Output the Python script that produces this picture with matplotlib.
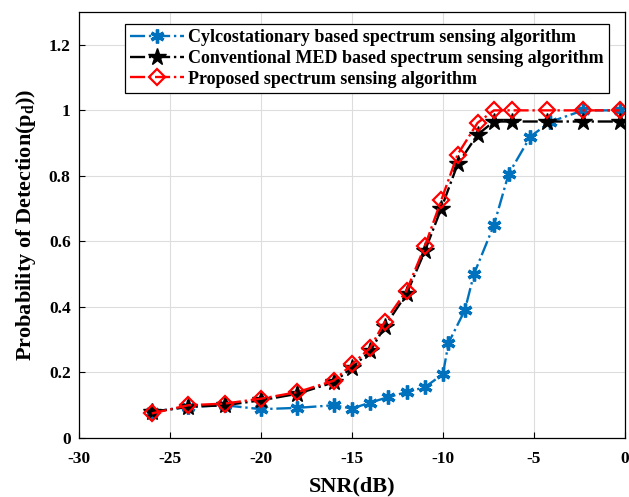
import numpy as np
import matplotlib
matplotlib.use('Agg')
import matplotlib.pyplot as plt

# Detection probability vs SNR for three sensing schemes
snr_cyclo = [-26, -24, -22, -20, -18, -16, -15, -14, -13, -12, -11, -10,
             -9.7, -8.8, -8.3, -7.2, -6.4, -5.2, -4.1, -2.3, -0.3]
pd_cyclo = [0.08, 0.095, 0.10, 0.088, 0.092, 0.10, 0.09, 0.108, 0.125, 0.14,
            0.155, 0.195, 0.29, 0.39, 0.50, 0.65, 0.805, 0.92, 0.965, 1.0, 1.0]

snr_prop = [-26, -24, -22, -20, -18, -16, -15, -14, -13.2, -12, -11, -10.1,
            -9.2, -8.1, -7.2, -6.2, -4.3, -2.3, -0.3]
pd_med = [0.08, 0.095, 0.10, 0.115, 0.135, 0.17, 0.215, 0.265, 0.34, 0.44,
          0.57, 0.70, 0.835, 0.926, 0.966, 0.966, 0.966, 0.966, 0.966]
pd_prop = [0.075, 0.10, 0.105, 0.12, 0.14, 0.175, 0.225, 0.275, 0.355, 0.45,
           0.585, 0.725, 0.865, 0.962, 1.0, 1.0, 1.0, 1.0, 1.0]

labels = ['Cylcostationary based spectrum sensing algorithm',
          'Conventional MED based spectrum sensing algorithm',
          'Proposed spectrum sensing algorithm']

plt.rcParams['font.family'] = ['Liberation Serif', 'DejaVu Serif']
plt.rcParams['font.weight'] = 'bold'
plt.rcParams['axes.unicode_minus'] = False
plt.rcParams['mathtext.fontset'] = 'custom'
plt.rcParams['mathtext.rm'] = 'Liberation Serif:bold'
plt.rcParams['mathtext.bf'] = 'Liberation Serif:bold'
plt.rcParams['mathtext.it'] = 'Liberation Serif:bold'

fig = plt.figure(figsize=(6.29, 4.97), dpi=100)
ax = fig.add_axes([0.1256, 0.1187, 0.868, 0.857])

blue = '#0072BD'
ax.plot(snr_cyclo, pd_cyclo, linestyle='-.', color=blue, lw=1.7,
        marker=(6, 2, 0), ms=10, mew=2.4, label=labels[0])
ax.plot(snr_prop, pd_med, linestyle='-.', color='black', lw=1.7,
        marker='*', ms=13, mfc='black', mec='black', label=labels[1])
ax.plot(snr_prop, pd_prop, linestyle='-.', color='red', lw=1.7,
        marker='D', ms=8, mfc='none', mec='red', mew=1.6, label=labels[2])

ax.set_xlim(-30, 0)
ax.set_ylim(0, 1.3)
ax.set_xticks([-30, -25, -20, -15, -10, -5, 0])
ax.set_yticks([0, 0.2, 0.4, 0.6, 0.8, 1.0, 1.2])
ax.set_yticklabels(['0', '0.2', '0.4', '0.6', '0.8', '1', '1.2'])
ax.tick_params(labelsize=12.5, direction='in', length=4, width=0.8)
ax.tick_params(axis='x', pad=9)
ax.tick_params(axis='y', pad=6)
ax.grid(True, color='#dddddd', lw=0.8)
for s in ax.spines.values():
    s.set_linewidth(0.9)

ax.set_xlabel('SNR(dB)', fontsize=16, fontweight='bold', labelpad=7)
ax.set_ylabel(r'Probability of Detection(p$_\mathbf{d}$))', fontsize=16,
              fontweight='bold', labelpad=8)

leg = ax.legend(loc='upper left', bbox_to_anchor=(0.084, 0.972),
                borderaxespad=0, fontsize=13, fancybox=False,
                edgecolor='black', framealpha=1, handlelength=3.0,
                handletextpad=0.2, borderpad=0.3, labelspacing=0.2)
leg.get_frame().set_linewidth(0.9)

fig.savefig('out.png', dpi=100)
